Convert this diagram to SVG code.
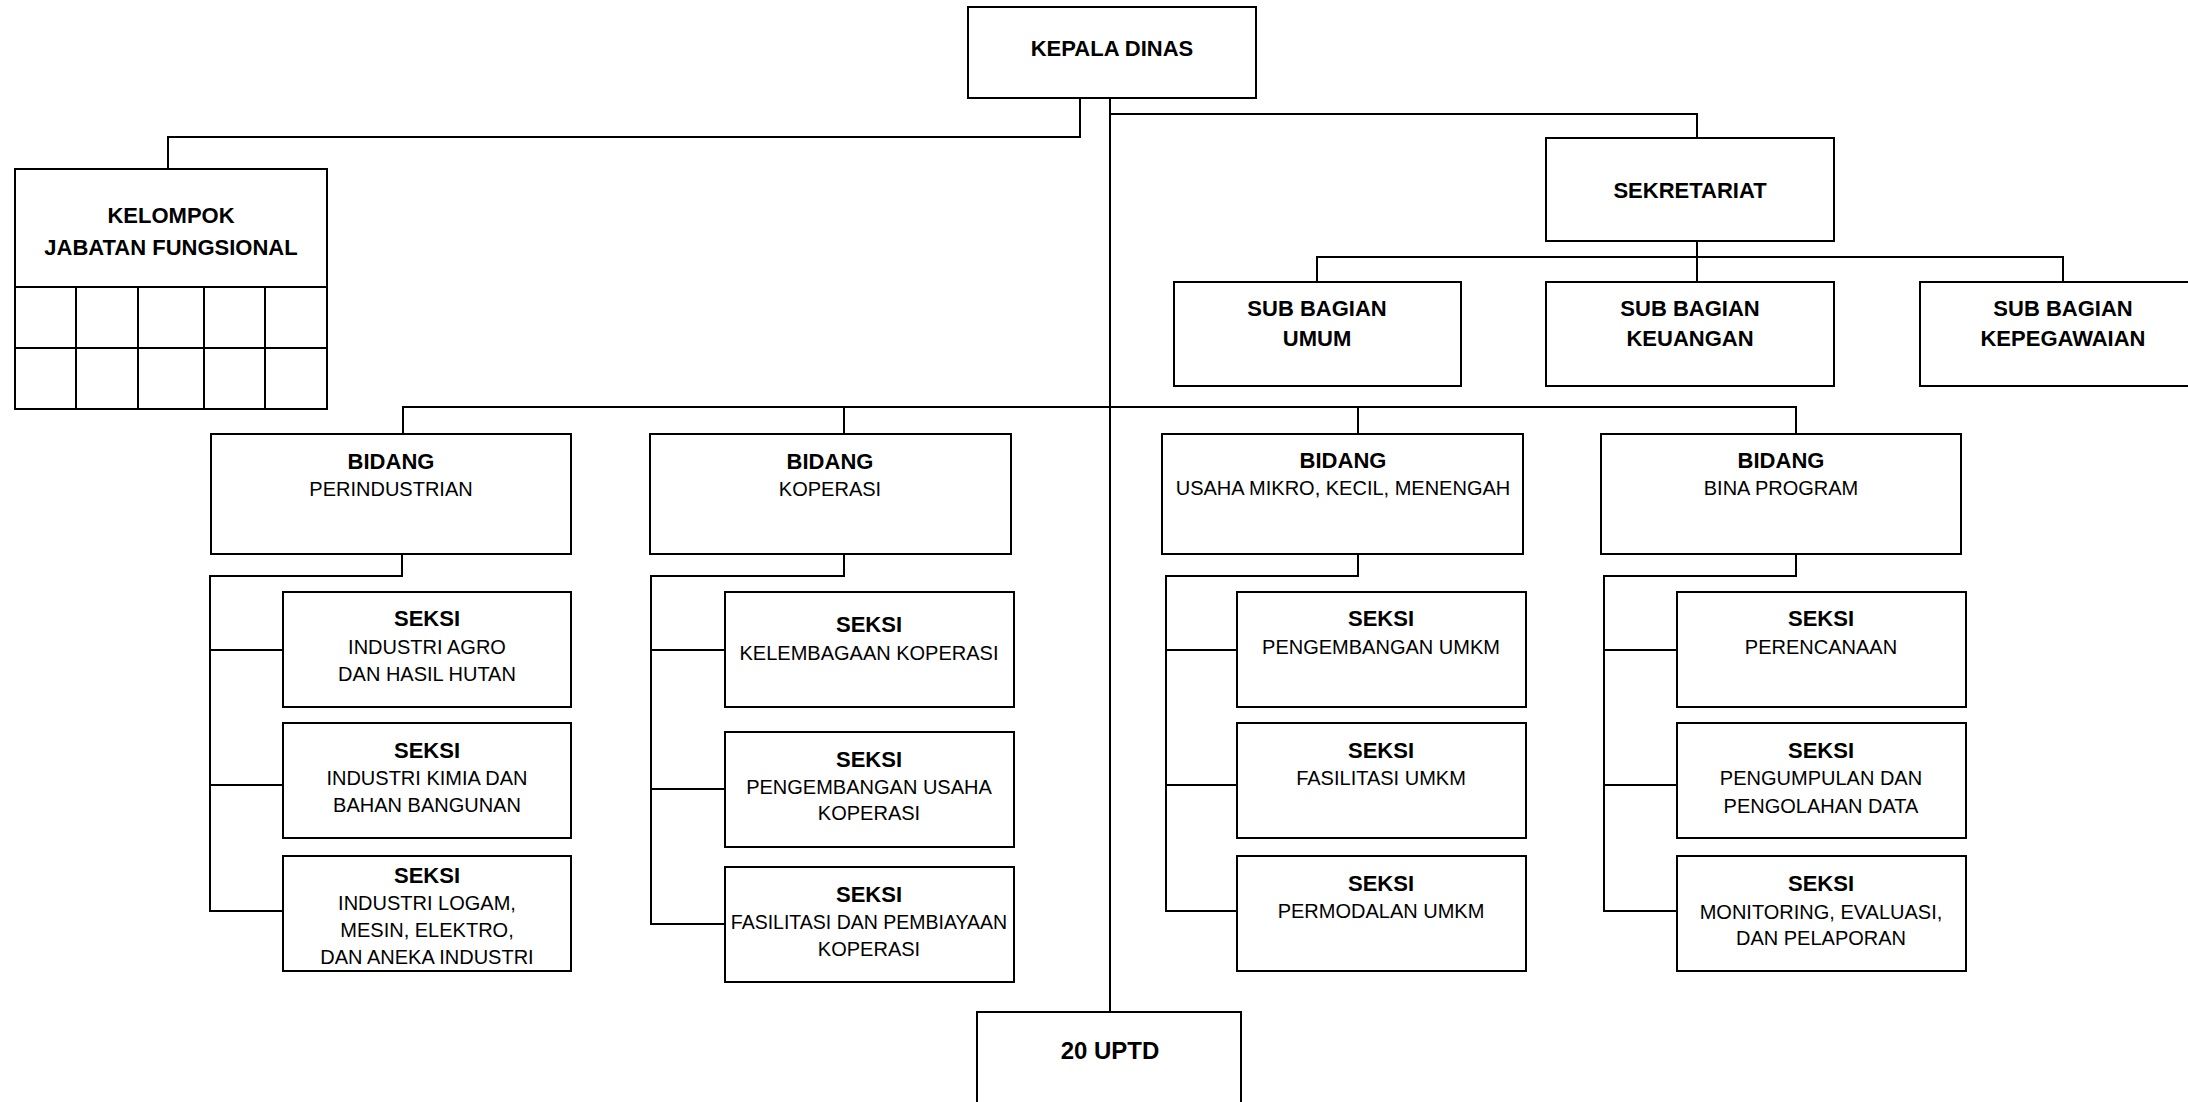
<svg xmlns="http://www.w3.org/2000/svg" width="2188" height="1102" viewBox="0 0 2188 1102">
<style>
.box{fill:#fff;stroke:#000;stroke-width:2}
.ln{fill:none;stroke:#000;stroke-width:2}
text{font-family:"Liberation Sans",Arial,sans-serif;text-anchor:middle;fill:#000}
.b{font-weight:bold;font-size:22px}
.r{font-size:20px}
</style>
<rect width="2188" height="1102" fill="#fff"/>
<g id="connectors" class="ln">
<path d="M1110 98V1012"/>
<path d="M1080 98V137H168V169"/>
<path d="M1110 114H1697V138"/>
<path d="M1697 241V282"/>
<path d="M1317 282V257H2063V282"/>
<path d="M403 434V407H1796V434"/>
<path d="M844 407V434"/>
<path d="M1358 407V434"/>
<path d="M402 554V576H210V911H283"/>
<path d="M210 650H283M210 785H283"/>
<path d="M844 554V576H651V924H725"/>
<path d="M651 650H725M651 789H725"/>
<path d="M1358 554V576H1166V911H1237"/>
<path d="M1166 650H1237M1166 785H1237"/>
<path d="M1796 554V576H1604V911H1677"/>
<path d="M1604 650H1677M1604 785H1677"/>
</g>
<g id="kepala-dinas"><rect class="box" x="968" y="7" width="288" height="91"/><text class="b" x="1112" y="56">KEPALA DINAS</text></g>
<g id="kelompok-jabatan-fungsional">
<rect class="box" x="15" y="169" width="312" height="240"/>
<path class="ln" d="M15 287H327M15 348H327M76 287V409M138 287V409M204 287V409M265 287V409"/>
<text class="b" x="171" y="223">KELOMPOK</text><text class="b" x="171" y="255">JABATAN FUNGSIONAL</text></g>
<g id="sekretariat"><rect class="box" x="1546" y="138" width="288" height="103"/><text class="b" x="1690" y="198">SEKRETARIAT</text></g>
<g id="sub-bagian-umum"><rect class="box" x="1174" y="282" width="287" height="104"/><text class="b" x="1317" y="316">SUB BAGIAN</text><text class="b" x="1317" y="346">UMUM</text></g>
<g id="sub-bagian-keuangan"><rect class="box" x="1546" y="282" width="288" height="104"/><text class="b" x="1690" y="316">SUB BAGIAN</text><text class="b" x="1690" y="346">KEUANGAN</text></g>
<g id="sub-bagian-kepegawaian"><rect class="box" x="1920" y="282" width="286" height="104"/><text class="b" x="2063" y="316">SUB BAGIAN</text><text class="b" x="2063" y="346">KEPEGAWAIAN</text></g>
<g id="bidang-perindustrian"><rect class="box" x="211" y="434" width="360" height="120"/><text class="b" x="391" y="469">BIDANG</text><text class="r" x="391" y="496">PERINDUSTRIAN</text></g>
<g id="bidang-koperasi"><rect class="box" x="650" y="434" width="361" height="120"/><text class="b" x="830" y="469">BIDANG</text><text class="r" x="830" y="496">KOPERASI</text></g>
<g id="bidang-umkm"><rect class="box" x="1162" y="434" width="361" height="120"/><text class="b" x="1343" y="468">BIDANG</text><text class="r" x="1343" y="495">USAHA MIKRO, KECIL, MENENGAH</text></g>
<g id="bidang-bina-program"><rect class="box" x="1601" y="434" width="360" height="120"/><text class="b" x="1781" y="468">BIDANG</text><text class="r" x="1781" y="495">BINA PROGRAM</text></g>
<g id="seksi-industri-agro"><rect class="box" x="283" y="592" width="288" height="115"/><text class="b" x="427" y="626">SEKSI</text><text class="r" x="427" y="654">INDUSTRI AGRO</text><text class="r" x="427" y="681">DAN HASIL HUTAN</text></g>
<g id="seksi-industri-kimia"><rect class="box" x="283" y="723" width="288" height="115"/><text class="b" x="427" y="758">SEKSI</text><text class="r" x="427" y="785">INDUSTRI KIMIA DAN</text><text class="r" x="427" y="812">BAHAN BANGUNAN</text></g>
<g id="seksi-industri-logam"><rect class="box" x="283" y="856" width="288" height="115"/><text class="b" x="427" y="883">SEKSI</text><text class="r" x="427" y="910">INDUSTRI LOGAM,</text><text class="r" x="427" y="937">MESIN, ELEKTRO,</text><text class="r" x="427" y="964">DAN ANEKA INDUSTRI</text></g>
<g id="seksi-kelembagaan"><rect class="box" x="725" y="592" width="289" height="115"/><text class="b" x="869" y="632">SEKSI</text><text class="r" x="869" y="660">KELEMBAGAAN KOPERASI</text></g>
<g id="seksi-pengembangan-usaha"><rect class="box" x="725" y="732" width="289" height="115"/><text class="b" x="869" y="767">SEKSI</text><text class="r" x="869" y="794">PENGEMBANGAN USAHA</text><text class="r" x="869" y="820">KOPERASI</text></g>
<g id="seksi-fasilitasi-pembiayaan"><rect class="box" x="725" y="867" width="289" height="115"/><text class="b" x="869" y="902">SEKSI</text><text class="r" x="869" y="929" style="font-size:19.5px">FASILITASI DAN PEMBIAYAAN</text><text class="r" x="869" y="956">KOPERASI</text></g>
<g id="seksi-pengembangan-umkm"><rect class="box" x="1237" y="592" width="289" height="115"/><text class="b" x="1381" y="626">SEKSI</text><text class="r" x="1381" y="654">PENGEMBANGAN UMKM</text></g>
<g id="seksi-fasilitasi-umkm"><rect class="box" x="1237" y="723" width="289" height="115"/><text class="b" x="1381" y="758">SEKSI</text><text class="r" x="1381" y="785">FASILITASI UMKM</text></g>
<g id="seksi-permodalan-umkm"><rect class="box" x="1237" y="856" width="289" height="115"/><text class="b" x="1381" y="891">SEKSI</text><text class="r" x="1381" y="918">PERMODALAN UMKM</text></g>
<g id="seksi-perencanaan"><rect class="box" x="1677" y="592" width="289" height="115"/><text class="b" x="1821" y="626">SEKSI</text><text class="r" x="1821" y="654">PERENCANAAN</text></g>
<g id="seksi-pengumpulan-data"><rect class="box" x="1677" y="723" width="289" height="115"/><text class="b" x="1821" y="758">SEKSI</text><text class="r" x="1821" y="785">PENGUMPULAN DAN</text><text class="r" x="1821" y="813">PENGOLAHAN DATA</text></g>
<g id="seksi-monitoring"><rect class="box" x="1677" y="856" width="289" height="115"/><text class="b" x="1821" y="891">SEKSI</text><text class="r" x="1821" y="919">MONITORING, EVALUASI,</text><text class="r" x="1821" y="945">DAN PELAPORAN</text></g>
<g id="uptd"><rect class="box" x="977" y="1012" width="264" height="110"/><text class="b" x="1110" y="1059" style="font-size:24px">20 UPTD</text></g>
</svg>
